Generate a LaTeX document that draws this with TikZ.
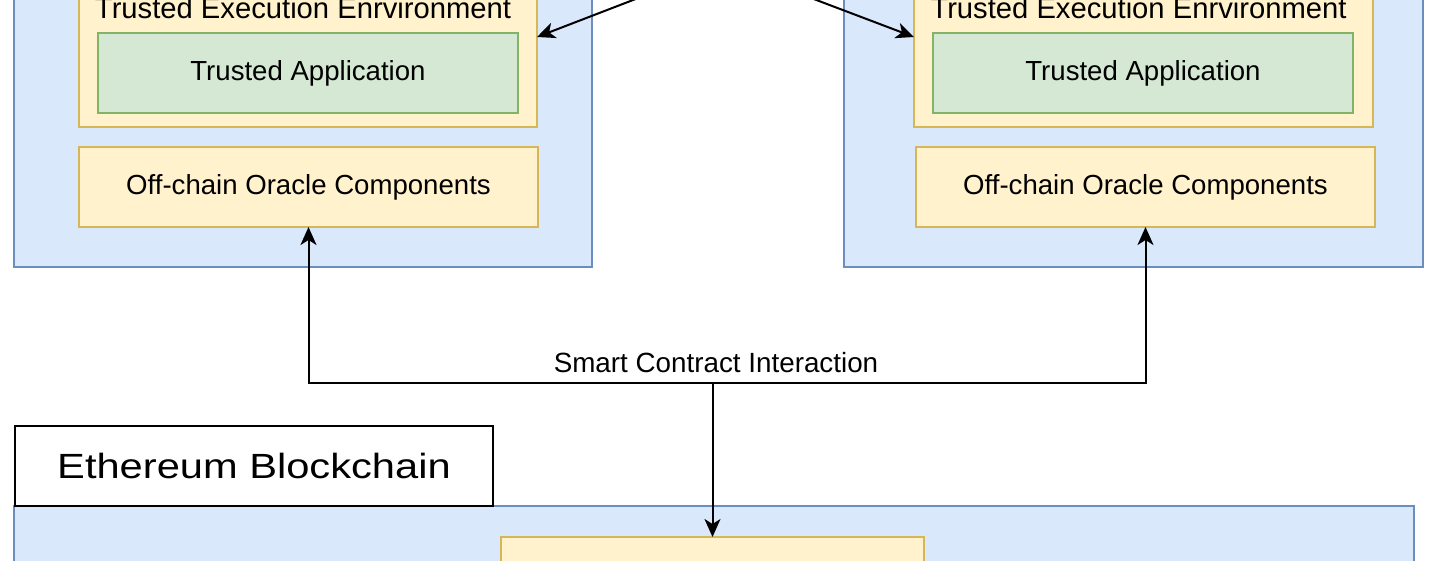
\documentclass[tikz,border=0pt]{standalone}
\usepackage{fontspec}
\setmainfont{Liberation Sans}
\usetikzlibrary{arrows.meta}
\definecolor{bluefill}{HTML}{DAE8FC}
\definecolor{blueline}{HTML}{6C8EBF}
\definecolor{yelfill}{HTML}{FFF2CC}
\definecolor{yelline}{HTML}{D6B656}
\definecolor{grnfill}{HTML}{D5E8D4}
\definecolor{grnline}{HTML}{82B366}
\begin{document}
\begin{tikzpicture}[x=1pt,y=-1pt,
  basebox/.style={rectangle, inner sep=0pt, outer sep=0pt, line width=1.7pt, align=center,
    font=\fontsize{27.6}{33}\selectfont},
  bluebox/.style={basebox, draw=blueline, fill=bluefill},
  yelbox/.style={basebox, draw=yelline, fill=yelfill},
  grnbox/.style={basebox, draw=grnline, fill=grnfill},
  whitebox/.style={basebox, draw=black, fill=white, line width=1.9pt},
  lbl/.style={inner sep=0pt, anchor=base, font=\fontsize{27.8}{33}\selectfont},
  teelbl/.style={inner sep=0pt, anchor=base, font=\fontsize{29.2}{35}\selectfont},
  tip/.tip={Stealth[length=18pt, width=16pt, inset=5pt]},
  arr/.style={line width=2pt, draw=black, -tip},
  arrboth/.style={line width=2pt, draw=black, tip-tip}
]
\useasboundingbox (0,0) rectangle (1440,560);
\clip (0,0) rectangle (1440,560);

% left host
\node[bluebox, minimum width=578pt, minimum height=297pt] (lblue) at (303,118.5) {};
\node[yelbox, minimum width=458pt, minimum height=157pt] (ltee) at (308,48.5) {};
\node[teelbl] (ltlbl) at (303,18.5) {Trusted Execution Enrvironment};
\node[grnbox, minimum width=420pt, minimum height=80pt] (lta) at (308,73) {Trusted Application};
\node[yelbox, minimum width=459pt, minimum height=80pt] (lof) at (308.5,187) {Off-chain Oracle Components};

% right host
\node[bluebox, minimum width=579pt, minimum height=297pt] (rblue) at (1133.5,118.5) {};
\node[yelbox, minimum width=459pt, minimum height=157pt] (rtee) at (1143.5,48.5) {};
\node[teelbl] (rtlbl) at (1138.5,18.5) {Trusted Execution Enrvironment};
\node[grnbox, minimum width=420pt, minimum height=80pt] (rta) at (1143,73) {Trusted Application};
\node[yelbox, minimum width=459pt, minimum height=80pt] (rof) at (1145.5,187) {Off-chain Oracle Components};

% blockchain
\node[bluebox, minimum width=1400pt, minimum height=94pt] (chain) at (714,553) {};
\node[whitebox, minimum width=478pt, minimum height=80pt] (eth) at (254,466)
  {\fontsize{35}{42}\selectfont\scalebox{1.19}[1]{Ethereum Blockchain}};
\node[yelbox, minimum width=423pt, minimum height=63pt] (byel) at (712.5,568.5) {};

% connectors
\coordinate (src) at (724,-35);
\draw[arr] (src) -- ([yshift=11.5pt]ltee.east);
\draw[arr] (src) -- ([yshift=11.5pt]rtee.west);

\coordinate (junc) at (712.5,382.5);
\draw[arrboth] (lof.south) |- (junc) -| (rof.south);
\draw[arr] (junc) -- (byel.north);
\node[lbl] (sci) at (716,372) {Smart Contract Interaction};
\end{tikzpicture}
\end{document}
